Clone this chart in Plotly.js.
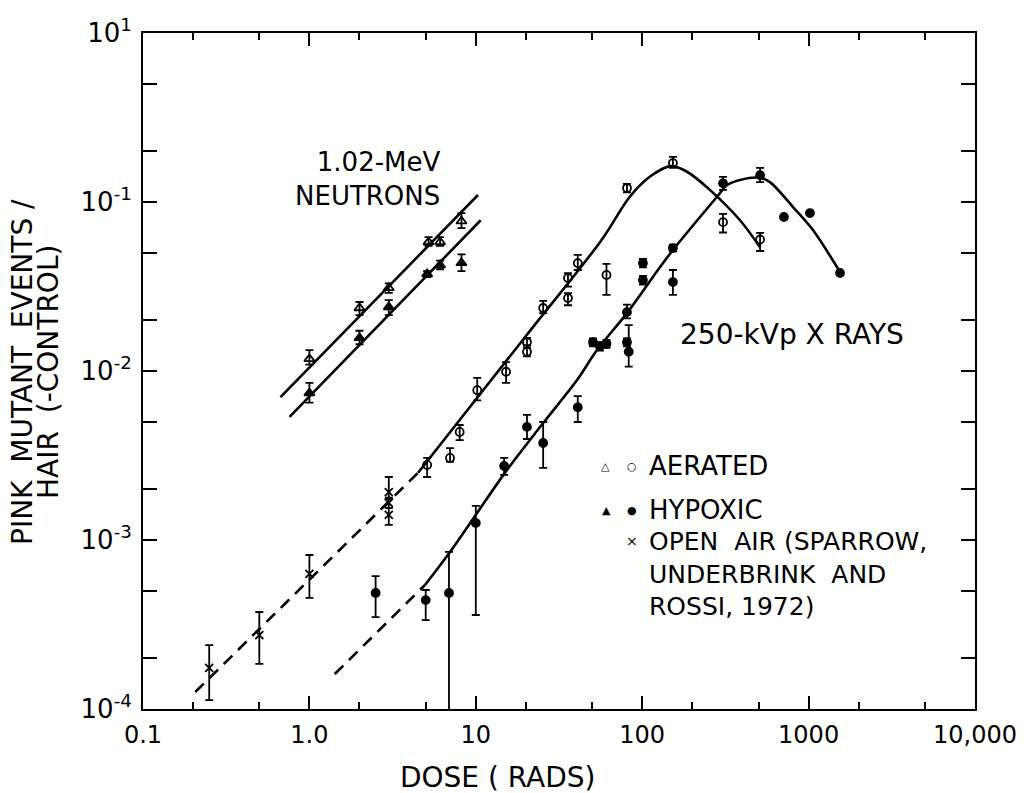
<!DOCTYPE html>
<html><head><meta charset="utf-8">
<script src="https://cdn.plot.ly/plotly-3.0.1.min.js"></script>
<style>html,body{margin:0;padding:0;background:#fff}</style>
</head><body><div id="chart" style="width:1034px;height:793px"></div>
<script>
// ---- Axis ticks ----
const xTickVals = [0.1, 1, 10, 100, 1000, 10000];
const xTickText = ['0.1', '1.0', '10', '100', '1000', '10,000'];
const xMinorVals = [0.2, 0.5, 2, 5, 20, 50, 200, 500, 2000, 5000];
const yTickVals = [1e-4, 1e-3, 1e-2, 1e-1, 1];
const yTickText = ['10<sup>-4</sup>', '10<sup>-3</sup>', '10<sup>-2</sup>', '10<sup>-1</sup>', '10<sup>1</sup>'];
const yMinorVals = [2e-4, 5e-4, 2e-3, 5e-3, 0.02, 0.05, 0.2, 0.5];

// ---- 1.02-MeV neutrons ----
const nAerDose = [1.0, 2.0, 3.0, 5.2, 6.1, 8.2];
const nAerY    = [0.0118, 0.0236, 0.031, 0.058, 0.058, 0.077];
const nAerHi   = [0.0133, 0.0256, 0.033, 0.062, 0.062, 0.086];
const nAerLo   = [0.0109, 0.0214, 0.029, 0.055, 0.055, 0.070];

const nHypDose = [1.0, 2.0, 3.0, 5.1, 6.1, 8.2];
const nHypY    = [0.0074, 0.0157, 0.0239, 0.0375, 0.0424, 0.0436];
const nHypHi   = [0.0085, 0.0173, 0.0263, 0.039, 0.045, 0.049];
const nHypLo   = [0.0065, 0.0144, 0.0214, 0.036, 0.040, 0.039];

const nAerFitDose = [0.67, 10.3];
const nAerFitY    = [0.0070, 0.11];
const nHypFitDose = [0.76, 10.7];
const nHypFitY    = [0.00535, 0.078];

// ---- 250-kVp X rays ----
const xAerDose = [5.1, 7.0, 8.0, 10.2, 15.2, 20.3, 20.3, 25.4, 35.8, 35.8, 41, 61, 81, 153, 306, 511];
const xAerY    = [0.00278, 0.00306, 0.00436, 0.0077, 0.0099, 0.0148, 0.0130, 0.0236, 0.0355, 0.027, 0.0435, 0.037, 0.121, 0.170, 0.076, 0.060];
const xAerHi   = [0.00306, 0.0035, 0.00479, 0.0091, 0.0113, 0.0157, 0.0138, 0.026, 0.0379, 0.0289, 0.0487, 0.043, 0.128, 0.185, 0.085, 0.0656];
const xAerLo   = [0.00236, 0.0029, 0.0039, 0.0067, 0.0085, 0.0142, 0.0122, 0.022, 0.0316, 0.0245, 0.0396, 0.0282, 0.114, 0.159, 0.066, 0.0513];

const xHypDose = [2.5, 5.0, 6.9, 10.0, 14.8, 20.3, 25.4, 41, 50.6, 55.7, 61, 81, 81, 83, 101, 101, 153, 153, 306, 511, 711, 1019, 1545];
const xHypY    = [0.000486, 0.000441, 0.000486, 0.00126, 0.00274, 0.00467, 0.00375, 0.0061, 0.0148, 0.0140, 0.0145, 0.0223, 0.0148, 0.0130, 0.0435, 0.0345, 0.0534, 0.0336, 0.129, 0.144, 0.0815, 0.086, 0.038];
const xHypHi   = [0.000612, 0.000506, 0.00085, 0.00159, 0.00306, 0.0055, 0.00499, 0.0071, 0.0156, 0.0148, 0.0153, 0.0247, 0.0156, 0.0187, 0.046, 0.0365, 0.056, 0.0396, 0.141, 0.159, 0.0815, 0.086, 0.038];
const xHypLo   = [0.00035, 0.000336, 0.00001, 0.00036, 0.00243, 0.00396, 0.00267, 0.00499, 0.0140, 0.0132, 0.0137, 0.0205, 0.0140, 0.0106, 0.041, 0.0325, 0.051, 0.0282, 0.118, 0.131, 0.0815, 0.086, 0.038];

const oaDose = [0.25, 0.5, 1.0, 3.0, 3.0, 3.0];
const oaY    = [0.000175, 0.000274, 0.00063, 0.00192, 0.00166, 0.00141];
const oaHi   = [0.000239, 0.000375, 0.000815, 0.00236, 0.00178, 0.00155];
const oaLo   = [0.000113, 0.000185, 0.000454, 0.00175, 0.00155, 0.00123];

// fitted curves
const xAerDashDose  = [0.206, 4.5];
const xAerDashY     = [0.000126, 0.0025];
const xAerCurveDose = [4.5, 20, 57, 84, 111, 149, 186, 255, 387, 511];
const xAerCurveY    = [0.0025, 0.0161, 0.0596, 0.107, 0.141, 0.163, 0.151, 0.118, 0.078, 0.054];

const xHypDashDose  = [1.42, 4.95];
const xHypDashY     = [0.000161, 0.000542];
const xHypCurveDose = [4.95, 7.0, 10.2, 15.4, 25.4, 40.6, 53.5, 81, 128, 153, 281, 324, 387, 511, 586, 806, 1062, 1545];
const xHypCurveY    = [0.000542, 0.00085, 0.00145, 0.0026, 0.00492, 0.00885, 0.0133, 0.022, 0.0412, 0.052, 0.107, 0.126, 0.135, 0.139, 0.131, 0.0934, 0.0683, 0.0385];

// ---- helpers ----
function eb(y, hi, lo) {
  return {type: 'data', symmetric: false,
    array: hi.map((h, i) => Math.max(h - y[i], 0)),
    arrayminus: lo.map((l, i) => Math.max(y[i] - l, 0)),
    color: '#000', thickness: 1.8, width: 4};
}
function line(x, y, dash, shape) {
  return {x: x, y: y, mode: 'lines', type: 'scatter', hoverinfo: 'skip',
    line: {color: '#000', width: 2.6, dash: dash || 'solid', shape: shape || 'linear', smoothing: 0.9}};
}
function pts(x, y, hi, lo, symbol, size) {
  return {x: x, y: y, mode: 'markers', type: 'scatter',
    marker: {symbol: symbol, size: size, color: '#000', line: {color: '#000', width: 1.8}},
    error_y: eb(y, hi, lo)};
}

const traces = [
  line(nAerFitDose, nAerFitY),
  line(nHypFitDose, nHypFitY),
  line(xAerDashDose, xAerDashY, '12px,8px'),
  line(xAerCurveDose, xAerCurveY, 'solid', 'spline'),
  line(xHypDashDose, xHypDashY, '12px,8px'),
  line(xHypCurveDose, xHypCurveY, 'solid', 'spline'),
  pts(nAerDose, nAerY, nAerHi, nAerLo, 'triangle-up-open', 9),
  pts(nHypDose, nHypY, nHypHi, nHypLo, 'triangle-up', 9),
  pts(xAerDose, xAerY, xAerHi, xAerLo, 'circle-open', 8),
  pts(xHypDose, xHypY, xHypHi, xHypLo, 'circle', 8),
  pts(oaDose, oaY, oaHi, oaLo, 'x-thin-open', 8)
];

// ---- layout ----
const L = 143, R = 975, T = 33, B = 709;
const px = v => (v - L) / (R - L);
const py = v => (B - v) / (B - T);
function txt(size) { return {family: 'DejaVu Sans, sans-serif', size: size, color: '#000'}; }
function ann(text, x, y, xa, size, extra) {
  return Object.assign({text: text, xref: 'paper', yref: 'paper', x: px(x), y: py(y),
    xanchor: xa || 'center', yanchor: 'middle', showarrow: false, font: txt(size || 28)}, extra || {});
}

const annotations = [
  ann('1.02-MeV<br>NEUTRONS', 442, 179, 'right', 26, {align: 'right'}),
  ann('250-kVp X RAYS', 678, 334, 'left', 28),
  ann('\u25B3', 605, 466, 'center', 11),
  ann('\u25CB', 632, 466, 'center', 11),
  ann('AERATED', 647, 466, 'left', 26),
  ann('\u25B2', 606, 510, 'center', 11),
  ann('\u25CF', 632, 510, 'center', 11),
  ann('HYPOXIC', 647, 510, 'left', 26),
  ann('\u00D7', 632, 541, 'center', 14),
  ann('OPEN\u00A0\u00A0AIR (SPARROW,<br>UNDERBRINK\u00A0\u00A0AND<br>ROSSI, 1972)', 647, 574, 'left', 25, {align: 'left'}),
  ann('DOSE ( RADS)', 498, 777, 'center', 28),
  ann('PINK\u00A0\u00A0MUTANT\u00A0\u00A0EVENTS\u00A0/', 22, 372, 'center', 28, {textangle: -90}),
  ann('HAIR\u00A0\u00A0(-CONTROL)', 48, 372, 'center', 28, {textangle: -90})
];

const axisCommon = {
  type: 'log', tickmode: 'array', ticks: 'inside', tickwidth: 2, tickcolor: '#000',
  showline: true, linewidth: 2, linecolor: '#000', mirror: 'ticks',
  showgrid: false, zeroline: false
};

const layout = {
  width: 1034, height: 793,
  margin: {l: L, r: 1034 - R, t: T, b: 793 - B},
  paper_bgcolor: '#fff', plot_bgcolor: '#fff',
  showlegend: false,
  font: {family: 'DejaVu Sans, sans-serif', color: '#000', size: 24},
  xaxis: Object.assign({}, axisCommon, {
    range: [-1, 4], tickvals: xTickVals, ticktext: xTickText, ticklen: 13,
    tickfont: {size: 24}, ticklabelstandoff: 3,
    minor: {tickmode: 'array', tickvals: xMinorVals, ticks: 'inside', ticklen: 7, tickwidth: 2, tickcolor: '#000', showgrid: false}
  }),
  yaxis: Object.assign({}, axisCommon, {
    range: [-4, 0], tickvals: yTickVals, ticktext: yTickText, ticklen: 14,
    tickfont: {size: 26}, ticklabelstandoff: 4,
    minor: {tickmode: 'array', tickvals: yMinorVals, ticks: 'inside', ticklen: 14, tickwidth: 2, tickcolor: '#000', showgrid: false}
  }),
  annotations: annotations
};

Plotly.newPlot('chart', traces, layout, {displayModeBar: false, staticPlot: true});
</script></body></html>
